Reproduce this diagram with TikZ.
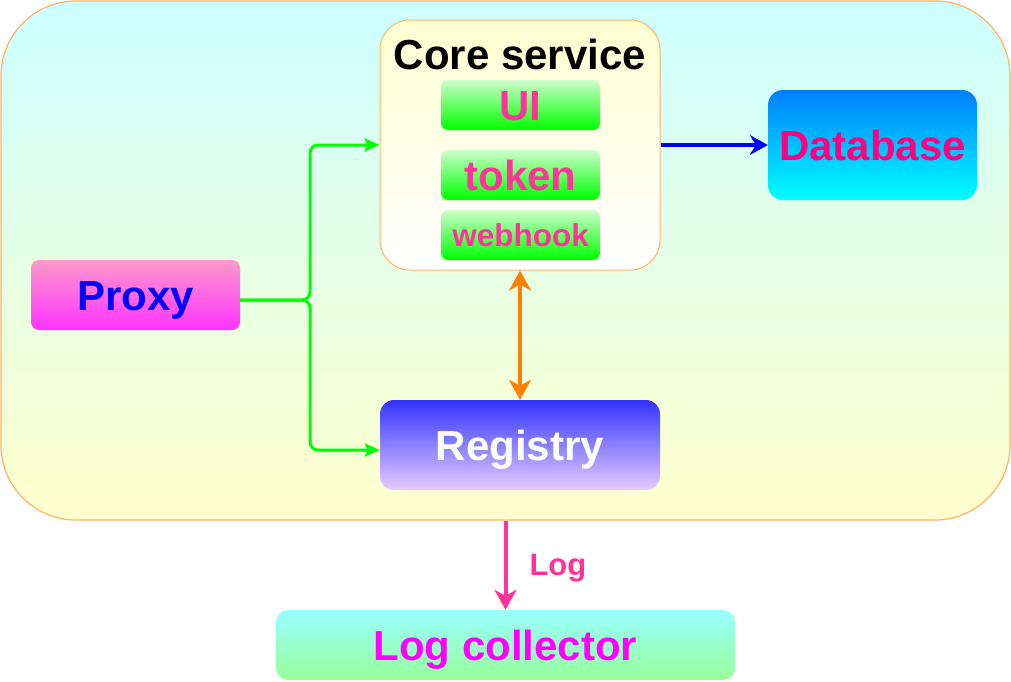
\documentclass[tikz,border=0pt]{standalone}
\usepackage{fontspec}
\setmainfont{Liberation Sans}
\usetikzlibrary{arrows.meta}
\definecolor{cbord}{HTML}{FFB366}
\definecolor{pinkt}{HTML}{FF3399}
\definecolor{dbt}{HTML}{FF0080}
\begin{document}
\begin{tikzpicture}[x=1pt,y=-1pt,
  box/.style={rounded corners=#1, inner sep=0pt, text depth=0pt, text height=30pt,
    font=\fontsize{42}{50}\selectfont\bfseries},
  sub/.style={box=7pt, minimum width=159pt, minimum height=50pt,
    top color=green!20, bottom color=green, text=pinkt},
  conn/.style={line width=3pt},
  ]
\useasboundingbox (0,0) rectangle (1011,681);
% container
\node[box=75pt, draw=cbord, line width=1.2pt, minimum width=1009pt, minimum height=519pt,
  top color={rgb,255:red,204;green,255;blue,255}, bottom color={rgb,255:red,255;green,255;blue,204}]
  (cont) at (505.5,260.5) {};
% core service
\node[box=30pt, draw=cbord, line width=1pt, minimum width=280pt, minimum height=250pt,
  top color={rgb,255:red,255;green,255;blue,210}, bottom color=white] (core) at (520,145) {};
\node[font=\fontsize{42}{50}\selectfont\bfseries, anchor=base, inner sep=0pt] (coret) at (520,69) {Core service};
\node[sub] (ui) at (520.5,105) {UI};
\node[sub] (token) at (520.5,175) {token};
\node[sub, text height=22pt, font=\fontsize{31.5}{37}\selectfont\bfseries] (webhook) at (520.5,235) {webhook};
% database
\node[box=15pt, minimum width=209pt, minimum height=110pt,
  top color={rgb,255:red,0;green,127;blue,255}, bottom color={rgb,255:red,0;green,255;blue,255}, text=dbt]
  (db) at (872.5,145) {Database};
% proxy
\node[box=8pt, minimum width=209pt, minimum height=70pt,
  top color={rgb,255:red,255;green,153;blue,204}, bottom color={rgb,255:red,255;green,51;blue,255}, text=blue]
  (proxy) at (135.5,295) {Proxy};
% registry
\node[box=14pt, minimum width=280pt, minimum height=90pt,
  top color={rgb,255:red,51;green,51;blue,255}, bottom color={rgb,255:red,229;green,204;blue,255}, text=white]
  (reg) at (520,445) {Registry};
% log collector
\node[box=12pt, minimum width=459pt, minimum height=70pt,
  top color={rgb,255:red,153;green,255;blue,255}, bottom color={rgb,255:red,153;green,255;blue,153},
  text={rgb,255:red,255;green,0;blue,255}]
  (lc) at (505.5,645) {Log collector};
% connectors
\draw[conn, green, rounded corners=8pt, -{Stealth[length=15pt,width=13pt,inset=3pt]}]
  ([yshift=-5pt]proxy.east) -- (310,300) |- (core.west);
\draw[conn, green, rounded corners=8pt, -{Stealth[length=15pt,width=13pt,inset=3pt]}]
  ([yshift=-5pt]proxy.east) -- (310,300) |- ([yshift=-5pt]reg.west);
\draw[line width=4pt, blue, -{Stealth[length=18pt,width=20pt,inset=6pt]}] (core.east) -- (db.west);
\draw[line width=4pt, color={rgb,255:red,255;green,128;blue,0},
  {Stealth[length=20pt,width=22pt,inset=6pt]}-{Stealth[length=20pt,width=22pt,inset=6pt]}]
  (core.south) -- (reg.north);
\draw[line width=4pt, pinkt, -{Stealth[length=20pt,width=22pt,inset=6pt]}] (cont.south) -- (lc.north)
  node[pos=0.5, right=22pt, yshift=-3pt, text=pinkt, font=\fontsize{31}{37}\selectfont\bfseries, inner sep=0pt] (logl) {Log};
\end{tikzpicture}
\end{document}
